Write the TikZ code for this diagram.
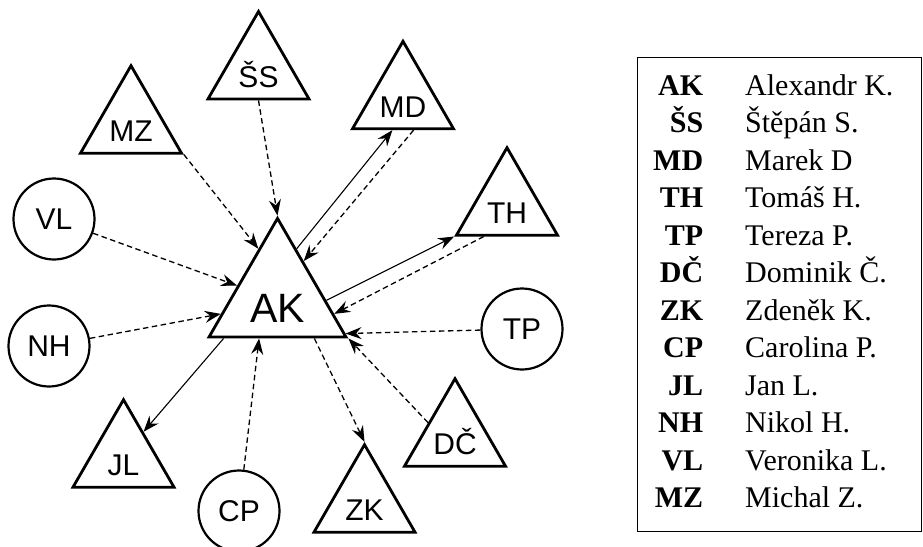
\documentclass[tikz,border=0pt]{standalone}
\usepackage{fontspec}
\setmainfont{Liberation Serif}
\setsansfont{Liberation Sans}
\usepackage{tikz}
\usetikzlibrary{shapes.geometric,arrows.meta,calc}

\begin{document}
\begin{tikzpicture}[x=1pt, y=-1pt,
    tri/.style={draw, regular polygon, regular polygon sides=3, line width=2.8pt,
        inner sep=-15pt, minimum size=116.6pt, text height=35pt, text depth=0pt,
        font=\sffamily\fontsize{30}{30}\selectfont},
    bigtri/.style={tri, minimum size=158.2pt, text height=50pt,
        font=\sffamily\fontsize{41}{41}\selectfont},
    circ/.style={draw, circle, line width=2.2pt, minimum size=81pt, inner sep=0pt,
        font=\sffamily\fontsize{30}{30}\selectfont},
    link/.style={-{Stealth[length=16pt, width=12pt, inset=5.5pt]}, line width=1.1pt},
    hint/.style={link, line width=1.3pt, dash pattern=on 5.5pt off 3.5pt}]
\useasboundingbox (0,0) rectangle (923,546);

% people
\node[bigtri] (ak) at (277.5,297.5) {AK};
\node[tri] (ss) at (258.5,69.8) {ŠS};
\node[tri] (mz) at (131,124) {MZ};
\node[tri] (md) at (403,99.6) {MD};
\node[tri] (th) at (507,206) {TH};
\node[tri] (dc) at (455,437) {DČ};
\node[tri] (zk) at (364.5,503) {ZK};
\node[tri] (jl) at (123.5,458) {JL};
\node[circ] (vl) at (54,219) {VL};
\node[circ] (nh) at (49,346) {NH};
\node[circ] (tp) at (522,329) {TP};
\node[circ] (cp) at (239,511) {CP};

% ties
\draw[hint] (ss.side 2) -- (ak.corner 1);
\draw[hint] (mz.corner 3) -- ($(ak.corner 1)!0.27!(ak.corner 2)$);
\draw[hint] (vl) -- ($(ak.corner 1)!0.57!(ak.corner 2)$);
\draw[hint] (nh) -- ($(ak.corner 1)!0.80!(ak.corner 2)$);
\draw[hint] (cp) -- ($(ak.corner 2)!0.37!(ak.corner 3)$);
\draw[link] ($(ak.corner 2)!0.12!(ak.corner 3)$) -- ($(jl.corner 1)!0.38!(jl.corner 3)$);
\draw[hint] ($(ak.corner 2)!0.76!(ak.corner 3)$) -- (zk.corner 1);
\draw[hint] ($(dc.corner 1)!0.51!(dc.corner 2)$) -- (ak.corner 3);
\draw[hint] (tp) -- ($(ak.corner 1)!0.96!(ak.corner 3)$);
\draw[link] ($(ak.corner 1)!0.69!(ak.corner 3)$) -- (th.corner 2);
\draw[hint] ($(th.corner 2)!0.28!(th.corner 3)$) -- ($(ak.corner 1)!0.80!(ak.corner 3)$);
\draw[link] ($(ak.corner 1)!0.27!(ak.corner 3)$) -- ($(md.corner 2)!0.40!(md.corner 3)$);
\draw[hint] ($(md.corner 2)!0.60!(md.corner 3)$) -- ($(ak.corner 1)!0.37!(ak.corner 3)$);

% legend
\node[draw, line width=1.3pt, minimum width=284pt, minimum height=474pt,
    inner sep=0pt, anchor=north west] (legend) at (637,57) {};
\node[anchor=west, inner sep=0pt, font=\fontsize{30}{37.5}\selectfont] (names) at (653,294) {%
  \begin{tabular}{@{}r@{\hspace{42pt}}l@{}}
  \textbf{AK} & Alexandr K.\\
  \textbf{ŠS} & Štěpán S.\\
  \textbf{MD} & Marek D\\
  \textbf{TH} & Tomáš H.\\
  \textbf{TP} & Tereza P.\\
  \textbf{DČ} & Dominik Č.\\
  \textbf{ZK} & Zdeněk K.\\
  \textbf{CP} & Carolina P.\\
  \textbf{JL} & Jan L.\\
  \textbf{NH} & Nikol H.\\
  \textbf{VL} & Veronika L.\\
  \textbf{MZ} & Michal Z.
  \end{tabular}};
\end{tikzpicture}
\end{document}
